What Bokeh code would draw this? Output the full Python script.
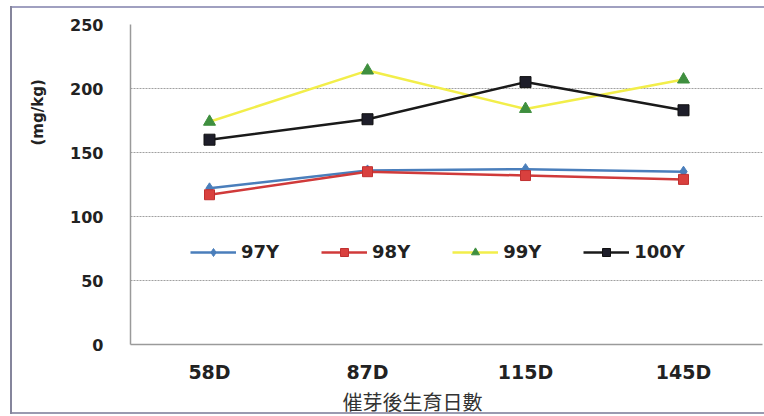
from bokeh.embed import file_html
from bokeh.models import FactorRange, FixedTicker, Legend, LegendItem, Range1d, Title
from bokeh.plotting import figure
from bokeh.resources import INLINE

# Days after germination (x categories)
days = ["58D", "87D", "115D", "145D"]

# Content in mg/kg for each growing year
y97 = [122, 136, 137, 135]
y98 = [117, 135, 132, 129]
y99 = [174, 214, 184, 207]
y100 = [160, 176, 205, 183]

series_names = ["97Y", "98Y", "99Y", "100Y"]
y_ticks = [0, 50, 100, 150, 200, 250]

# thin frame lines around the whole chart, painted behind the transparent canvas border
frame_css = {
    "background-color": "white",
    "background-image": (
        "linear-gradient(#85859c, #85859c), "
        "linear-gradient(#a0a0c0, #a0a0c0), "
        "linear-gradient(#9a9ab0, #9a9ab0)"
    ),
    "background-size": "2px 408px, 754px 2px, 754px 2px",
    "background-position": "10px 6px, 10px 6px, 10px 412px",
    "background-repeat": "no-repeat",
}

p = figure(
    width=764, height=416,
    x_range=FactorRange(*days), y_range=Range1d(0, 250),
    output_backend="svg", toolbar_location=None,
    min_border_left=130, min_border_right=2,
    min_border_top=24, min_border_bottom=70,
    background_fill_color="white", border_fill_alpha=0,
    styles=frame_css,
)
p.outline_line_color = None

# grid
p.xgrid.grid_line_color = None
p.ygrid.grid_line_color = "#a0a0a0"
p.ygrid.grid_line_dash = "2 1"
p.ygrid.grid_line_width = 1

# axes
for ax in (p.xaxis, p.yaxis):
    ax.axis_line_color = "#9a9a9a"
    ax.axis_line_width = 1.5
    ax.major_tick_line_color = None
    ax.minor_tick_line_color = None
    ax.major_tick_out = 0
    ax.major_tick_in = 0
    ax.minor_tick_out = 0
    ax.axis_label_standoff = 0
    ax.major_label_text_font = "DejaVu Sans"
    ax.major_label_text_font_style = "bold"
    ax.major_label_text_color = "#222222"

p.yaxis.ticker = FixedTicker(ticks=y_ticks)
p.yaxis.major_label_text_font_size = "16px"
p.yaxis.major_label_standoff = 27
p.xaxis.major_label_text_font_size = "19px"
p.xaxis.major_label_standoff = 16

# series lines + markers
r97l = p.line(days, y97, line_color="#4a7ebb", line_width=2.5)
r97m = p.scatter(days, y97, marker="diamond", size=11, fill_color="#4a7ebb", line_color="#4a7ebb")

r98l = p.line(days, y98, line_color="#d03a3a", line_width=2.5)
r98m = p.scatter(days, y98, marker="square", size=10, fill_color="#d9403e", line_color="#c03030")

r99l = p.line(days, y99, line_color="#f2ee4a", line_width=2.5)
r99m = p.scatter(days, y99, marker="triangle", size=12, fill_color="#3f8f3f", line_color="#3f8f3f")

r100l = p.line(days, y100, line_color="#1a1a1a", line_width=2.5)
r100m = p.scatter(days, y100, marker="square", size=11, fill_color="#1e1e2a", line_color="#111111")

legend = Legend(
    items=[
        LegendItem(label=series_names[0], renderers=[r97l, r97m]),
        LegendItem(label=series_names[1], renderers=[r98l, r98m]),
        LegendItem(label=series_names[2], renderers=[r99l, r99m]),
        LegendItem(label=series_names[3], renderers=[r100l, r100m]),
    ],
    orientation="horizontal",
    location=(60, 82),
    glyph_width=46, glyph_height=20,
    label_standoff=5, spacing=42, padding=2,
    background_fill_alpha=0, border_line_color=None,
    label_text_font="DejaVu Sans", label_text_font_style="bold",
    label_text_font_size="18px", label_text_color="#222222",
)
p.add_layout(legend, "center")

# axis titles
p.add_layout(Title(
    text="(mg/kg)", align="left", offset=199, vertical_align="middle", standoff=40,
    text_font="DejaVu Sans", text_font_style="bold",
    text_font_size="15px", text_color="#222222",
), "left")
p.add_layout(Title(
    text="催芽後生育日數", align="left", offset=212, vertical_align="middle", standoff=0,
    text_font="Noto Sans CJK TC", text_font_style="normal",
    text_font_size="20px", text_color="#333333",
), "below")

open("out.html", "w").write(file_html(p, INLINE))
